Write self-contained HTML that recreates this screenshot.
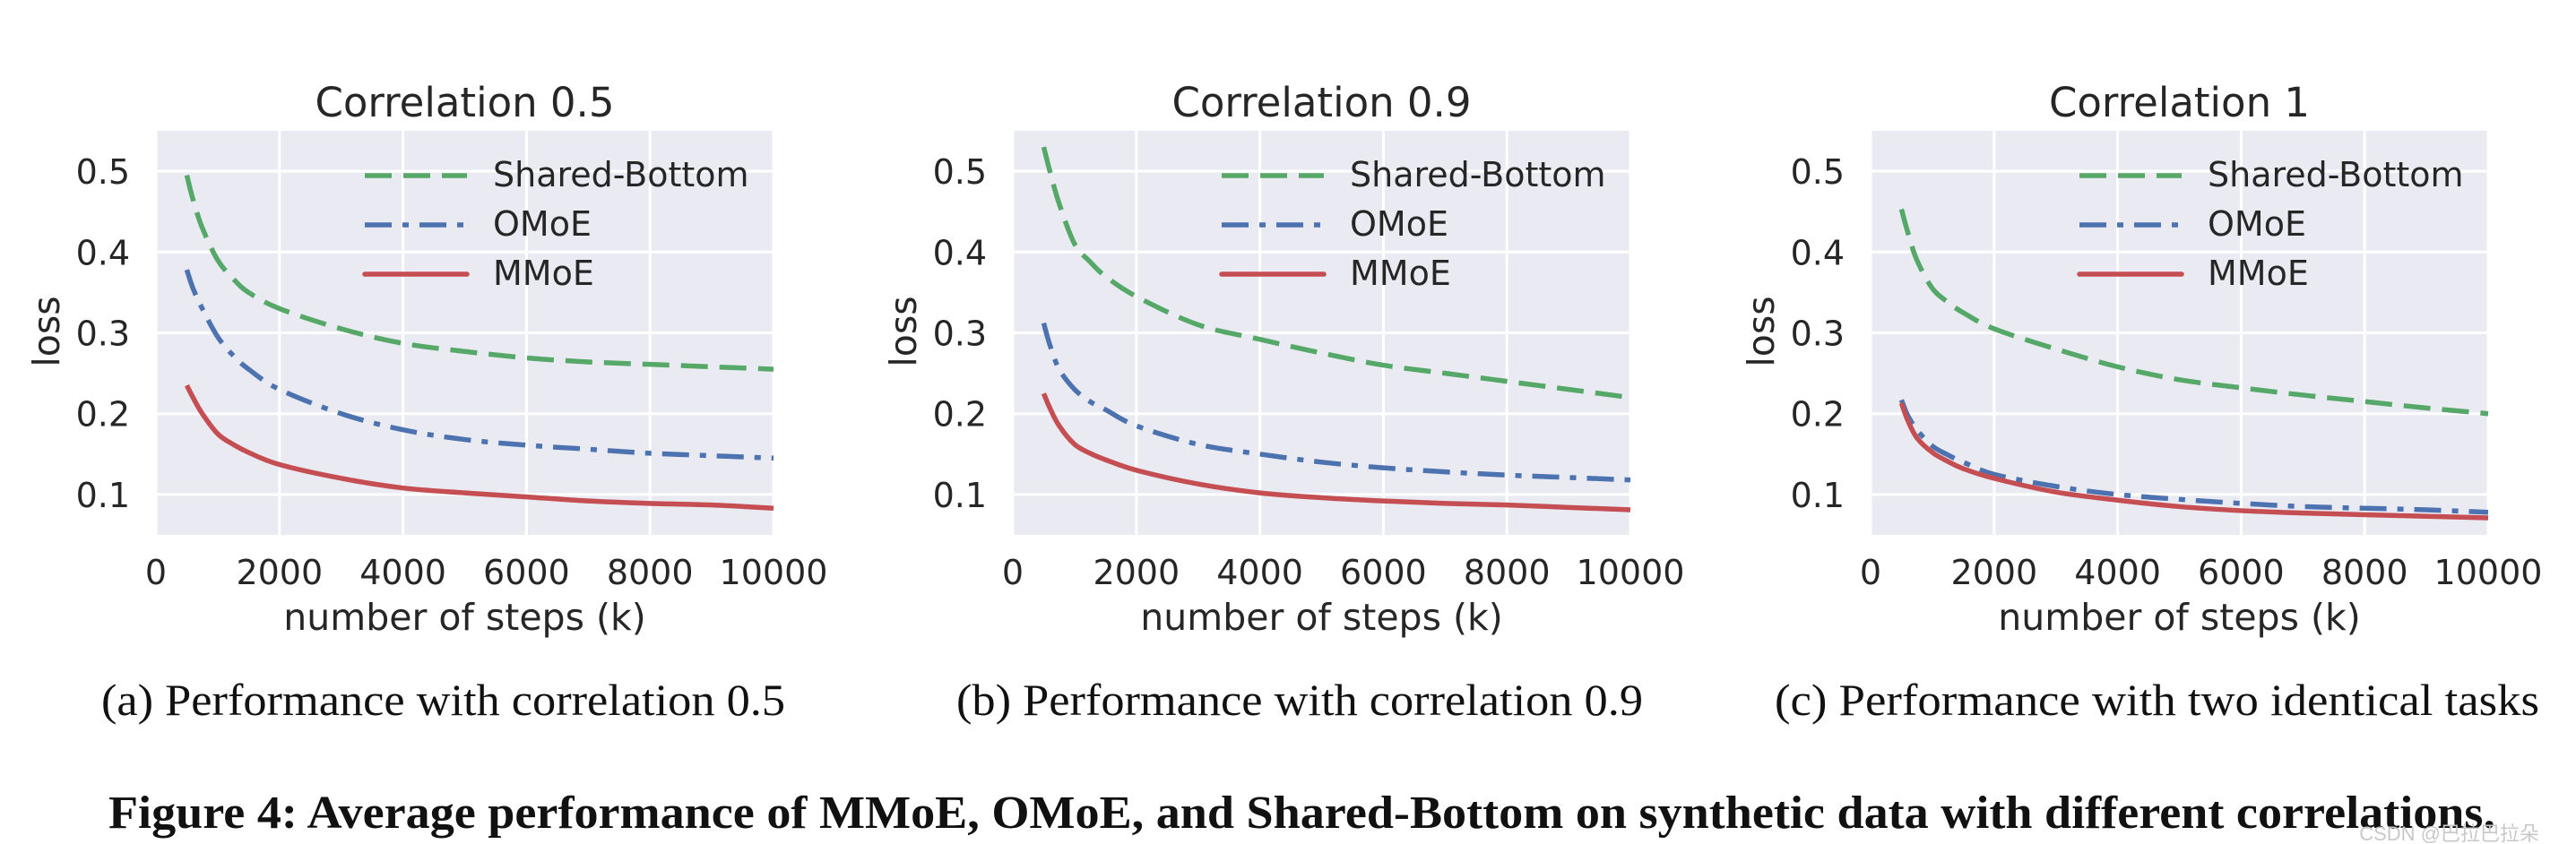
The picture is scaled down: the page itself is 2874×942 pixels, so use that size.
<!DOCTYPE html>
<html><head><meta charset="utf-8"><style>
html,body{margin:0;padding:0;background:#fff}
svg{display:block}
</style></head><body>
<svg id="fig" width="2874" height="942" viewBox="0 0 2874 942" xmlns="http://www.w3.org/2000/svg"></svg>
<script>
const steps = [500,600,750,1000,1250,1500,2000,3000,4000,5000,6000,7000,8000,9000,10000];
const xTicks = [0,2000,4000,6000,8000,10000];
const yTicks = [0.1,0.2,0.3,0.4,0.5];
const seriesNames = ["Shared-Bottom","OMoE","MMoE"];
const titles = ["Correlation 0.5","Correlation 0.9","Correlation 1"];
const captions = ["(a) Performance with correlation 0.5","(b) Performance with correlation 0.9","(c) Performance with two identical tasks"];
const sbA = [0.495,0.465,0.43,0.39,0.367,0.35,0.33,0.305,0.287,0.277,0.269,0.264,0.261,0.258,0.255];
const omA = [0.378,0.355,0.33,0.295,0.272,0.255,0.23,0.20,0.18,0.168,0.161,0.156,0.151,0.148,0.145];
const mmA = [0.235,0.22,0.2,0.175,0.162,0.152,0.137,0.12,0.108,0.102,0.097,0.092,0.089,0.087,0.083];
const sbB = [0.53,0.50,0.46,0.41,0.388,0.37,0.345,0.31,0.292,0.275,0.26,0.25,0.24,0.23,0.22];
const omB = [0.312,0.285,0.255,0.23,0.215,0.205,0.185,0.162,0.15,0.14,0.133,0.128,0.124,0.121,0.118];
const mmB = [0.225,0.207,0.185,0.162,0.151,0.143,0.13,0.113,0.102,0.096,0.092,0.089,0.087,0.084,0.081];
const sbC = [0.453,0.425,0.39,0.355,0.338,0.325,0.305,0.28,0.258,0.242,0.232,0.223,0.215,0.207,0.2];
const omC = [0.217,0.198,0.18,0.16,0.149,0.14,0.125,0.11,0.1,0.094,0.089,0.085,0.083,0.081,0.078];
const mmC = [0.213,0.192,0.17,0.152,0.141,0.132,0.12,0.103,0.093,0.085,0.08,0.077,0.075,0.073,0.071];

const NS = "http://www.w3.org/2000/svg";
const svg = document.getElementById('fig');
function mk(tag, attrs, parent){const e=document.createElementNS(NS,tag);for(const k in attrs)e.setAttribute(k,attrs[k]);(parent||svg).appendChild(e);return e;}
const colors=["#55A868","#4C72B0","#C44E52"];
const dashes=["30 13","30 12 7 12",""];
const panelLefts=[174,1130,2087];
const PW=689, PT=146, PB=597;
const YMIN=0.05, YMAX=0.55;
const data=[[sbA,omA,mmA],[sbB,omB,mmB],[sbC,omC,mmC]];
const font='"DejaVu Sans", "Liberation Sans", sans-serif';
const serif='"Liberation Serif", serif';

function smoothPath(pts){
  let d=`M${pts[0][0]},${pts[0][1]}`;
  for(let i=0;i<pts.length-1;i++){
    const p0=pts[Math.max(0,i-1)],p1=pts[i],p2=pts[i+1],p3=pts[Math.min(pts.length-1,i+2)];
    const c1=[p1[0]+(p2[0]-p0[0])/6,p1[1]+(p2[1]-p0[1])/6];
    const c2=[p2[0]-(p3[0]-p1[0])/6,p2[1]-(p3[1]-p1[1])/6];
    d+=` C${c1[0]},${c1[1]} ${c2[0]},${c2[1]} ${p2[0]},${p2[1]}`;
  }
  return d;
}

for(let p=0;p<3;p++){
  const L=panelLefts[p];
  const X=v=>L+v/10000*PW;
  const Y=v=>PB-(v-YMIN)/(YMAX-YMIN)*(PB-PT);
  const g=mk('g',{});
  
  
  const bg=mk('rect',{x:L,y:PT,width:PW,height:PB-PT,fill:'#EAEAF2'},g);
  
  
  xTicks.forEach(t=>{
    const l=mk('line',{x1:X(t),x2:X(t),y1:PT,y2:PB,stroke:'#fff','stroke-width':3},g);
    
    
    const tx=mk('text',{x:X(t),y:652,'text-anchor':'middle','font-family':font,'font-size':38,fill:'#262626'},g);
    tx.textContent=t;
    
    
  });
  yTicks.forEach(t=>{
    const l=mk('line',{x1:L,x2:L+PW,y1:Y(t),y2:Y(t),stroke:'#fff','stroke-width':3},g);
    
    
    const tx=mk('text',{x:L-29,y:Y(t)+14,'text-anchor':'end','font-family':font,'font-size':38,fill:'#262626'},g);
    tx.textContent=t.toFixed(1);
    
    
  });
  const tt=mk('text',{x:L+PW/2,y:130,'text-anchor':'middle','font-family':font,'font-size':45,fill:'#262626'},g);
  tt.textContent=titles[p];
  
  
  const xl=mk('text',{x:L+PW/2,y:703,'text-anchor':'middle','font-family':font,'font-size':41,fill:'#262626'},g);
  xl.textContent='number of steps (k)';
  
  
  const yl=mk('text',{x:0,y:0,'text-anchor':'middle','font-family':font,'font-size':41,fill:'#262626',transform:`translate(${L-108},370) rotate(-90)`},g);
  yl.textContent='loss';
  
  
  data[p].forEach((vals,s)=>{
    const pts=steps.map((st,i)=>[X(st),Y(vals[i])]);
    const path=mk('path',{d:smoothPath(pts),fill:'none',stroke:colors[s],'stroke-width':5.5,'stroke-linejoin':'round'},g);
    if(dashes[s])path.setAttribute('stroke-dasharray',dashes[s]);
    
    
  });
  seriesNames.forEach((n,s)=>{
    const ly=196+s*55;
    const ll=mk('line',{x1:L+233,x2:L+347,y1:ly,y2:ly,stroke:colors[s],'stroke-width':5.5,'stroke-linecap':s==2?'round':'butt'},g);
    if(dashes[s])ll.setAttribute('stroke-dasharray',dashes[s]);
    
    
    const lt=mk('text',{x:L+376,y:ly+12,'font-family':font,'font-size':38,fill:'#262626'},g);
    lt.textContent=n;
    
    
  });
}
const capX=[[113,876],[1067,1833],[1980,2833]];
captions.forEach((c,i)=>{
  const t=mk('text',{x:capX[i][0],y:798,'font-family':serif,'font-size':50,fill:'#111',textLength:capX[i][1]-capX[i][0],lengthAdjust:'spacingAndGlyphs'});
  t.textContent=c;
  
  
});
const fc=mk('text',{x:121,y:924,'font-family':serif,'font-size':52,'font-weight':'bold',fill:'#111',textLength:2663,lengthAdjust:'spacingAndGlyphs'});
fc.textContent='Figure 4: Average performance of MMoE, OMoE, and Shared-Bottom on synthetic data with different correlations.';


const wm=mk('text',{x:2833,y:938,'text-anchor':'end','font-family':'"Liberation Sans", "Noto Sans CJK SC", sans-serif','font-size':22,fill:'#c8c8c8'});
wm.textContent='CSDN @巴拉巴拉朵';


</script>
</body></html>
